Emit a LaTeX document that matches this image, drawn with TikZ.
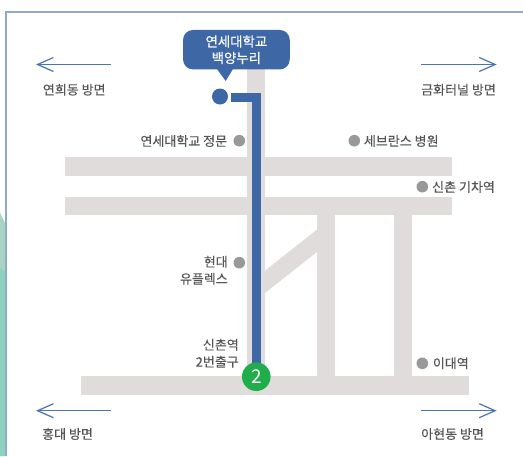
\documentclass[tikz,border=0pt]{standalone}
\usepackage{fontspec}
\setmainfont{Noto Sans CJK KR}[FakeBold=0.15]
\newfontfamily\calloutfont{Noto Sans CJK KR}[FakeBold=0.5]
\newfontfamily\exitfont{Noto Sans CJK KR}
\usetikzlibrary{arrows.meta}
\definecolor{road}{HTML}{DFDCDB}
\definecolor{route}{HTML}{3E67A5}
\definecolor{arrowblue}{HTML}{4C74B0}
\definecolor{frameblue}{HTML}{8FA9D0}
\definecolor{poi}{HTML}{999999}
\definecolor{labelgray}{HTML}{555555}
\definecolor{exitgreen}{HTML}{1FAE4B}
\definecolor{tealA}{HTML}{A9D4C3}
\definecolor{tealB}{HTML}{8DD2BC}
\tikzset{
  roadfill/.style={fill=road,draw=none},
  poidot/.style={circle,fill=poi,draw=none,minimum size=11.6pt,inner sep=0pt},
  lbl/.style={inner sep=0pt,text=labelgray,font=\fontsize{13}{17}\selectfont},
  lblE/.style={lbl,anchor=east,align=right},
  lblW/.style={lbl,anchor=west,align=left},
  dirarrow/.style={draw=arrowblue,line width=1.2pt,-{Straight Barb[length=16pt,width=14pt,line width=1.2pt]}},
  routeline/.style={draw=route,line width=9pt,line join=miter},
  exitdot/.style={circle,fill=exitgreen,minimum size=28.6pt,inner sep=0pt}
}
\begin{document}
\begin{tikzpicture}[x=1pt,y=-1pt]
\useasboundingbox (0,0) rectangle (523,456);
\fill[white] (0,0) rectangle (523,456);
% teal strip on the left
\fill[tealA] (0,212.7) -- (5.5,224) -- (5.5,456) -- (0,456) -- cycle;
\fill[tealB] (0,268) -- (5.5,272) -- (5.5,456) -- (0,456) -- cycle;
% frame
\draw[frameblue,line width=1.3pt] (6,456) -- (6,12) -- (523,12);
% roads
\fill[roadfill] (65,157) rectangle (452,176);
\fill[roadfill] (65,197) rectangle (452,215.3);
\fill[roadfill] (81,376) rectangle (469,394.5);
\fill[roadfill] (247,60) rectangle (265,376);
\fill[roadfill] (317.3,215) rectangle (335.3,376);
\fill[roadfill] (394.3,215) rectangle (412.3,376);
\fill[roadfill] (265,270.7) -- (317.3,229.3) -- (317.3,251.7) -- (265,293) -- cycle;
% route
\node[circle,fill=route,minimum size=16pt,inner sep=0pt] (start) at (220,96.5) {};
\coordinate (exitpos) at (256.3,376.7);
\coordinate (routeA) at (231,97);
\draw[routeline] (routeA) -- (routeA -| exitpos) -- (exitpos);
\node[exitdot,text=white,font=\exitfont\fontsize{19}{19}\selectfont] (exit) at (exitpos) {2};
% callout
\fill[route] (217,69) -- (225.7,81) -- (233,69) -- cycle;
\node[fill=route,rounded corners=10pt,minimum width=106.7pt,minimum height=39.5pt,inner sep=0pt,text=white,align=center,font=\calloutfont\fontsize{13.4}{16.5}\selectfont] (callout) at (236.4,49.7) {\raisebox{-0.5pt}{연세대학교}\\\raisebox{-0.5pt}{백양누리}};
% direction arrows
\coordinate (nwA) at (111.3,64.5); \coordinate (nwB) at (36,64.5);
\coordinate (neA) at (421,64.5); \coordinate (neB) at (496.7,64.5);
\coordinate (swA) at (111.3,410.7); \coordinate (swB) at (36,410.7);
\coordinate (seA) at (421,410.7); \coordinate (seB) at (496.7,410.7);
\draw[dirarrow] (nwA) -- (nwB);
\draw[dirarrow] (neA) -- (neB);
\draw[dirarrow] (swA) -- (swB);
\draw[dirarrow] (seA) -- (seB);
% direction labels
\node[lblW] (yeonhui) at (42.7,89.7) {연희동 방면};
\node[lblW] (geumhwa) at (421,89.7) {금화터널 방면};
\node[lblW] (hongdae) at (42,434) {홍대 방면};
\node[lblW] (ahyeon) at (421,434) {아현동 방면};
% points of interest
\node[poidot] (gate) at (239.3,140.7) {};
\node[lblE] (gatel) at (227.3,141) {연세대학교 정문};
\node[poidot] (sev) at (354.3,140.7) {};
\node[lblW] (sevl) at (363.7,141) {세브란스 병원};
\node[poidot] (train) at (422.3,186.7) {};
\node[lblW] (trainl) at (432,187) {신촌 기차역};
\node[poidot] (hyundai) at (239.3,262.7) {};
\node[lblE] (hyundail) at (228,270.3) {현대\\유플렉스};
\node[lblE] (sinchon) at (239,353.3) {신촌역\\2번출구};
\node[poidot] (ewha) at (422.3,363.3) {};
\node[lblW] (ewhal) at (432.7,363.3) {이대역};
\end{tikzpicture}
\end{document}
